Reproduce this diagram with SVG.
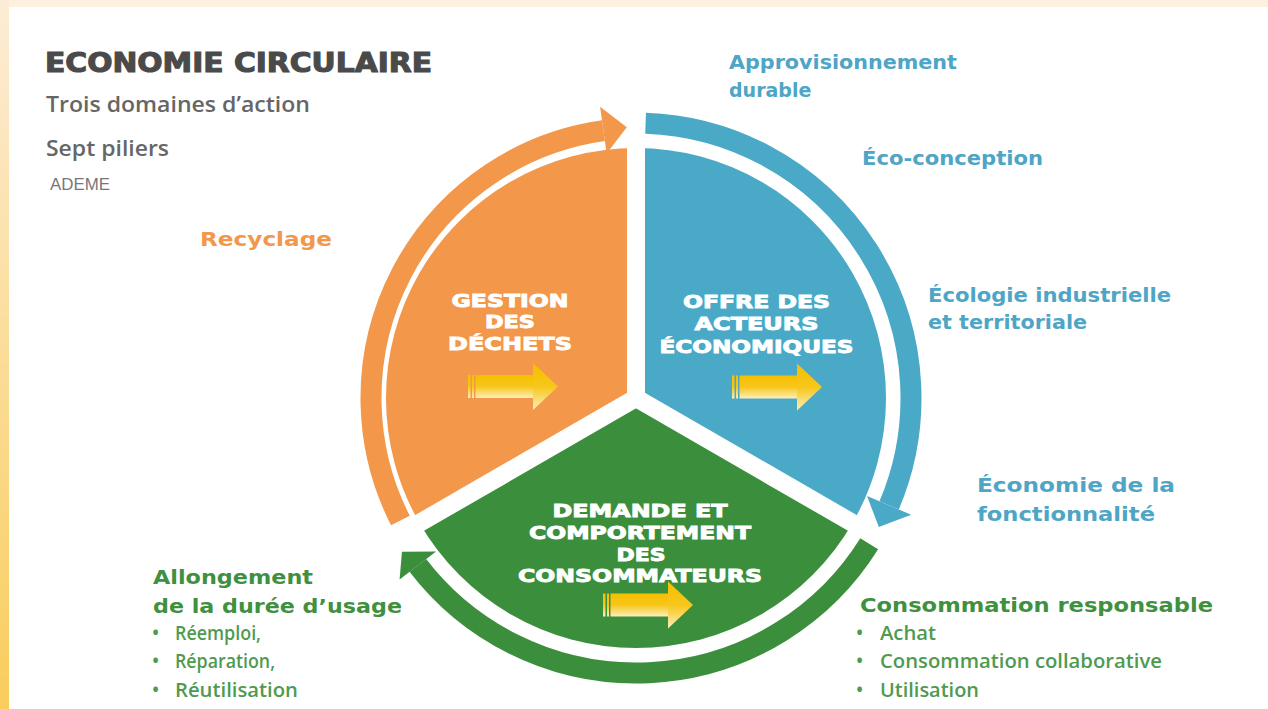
<svg xmlns="http://www.w3.org/2000/svg" width="1268" height="709" viewBox="0 0 1268 709">
<defs>
<linearGradient id="leftStrip" x1="0" y1="0" x2="0" y2="1">
<stop offset="0" stop-color="#fdecd6"/>
<stop offset="1" stop-color="#f9cd5c"/>
</linearGradient>
<linearGradient id="gold" x1="0" y1="0" x2="0" y2="1">
<stop offset="0" stop-color="#f5bf00"/>
<stop offset="0.5" stop-color="#f7c61a"/>
<stop offset="1" stop-color="#fdefbb"/>
</linearGradient>
<g id="yarrow">
<rect x="0" y="-11.5" width="2.5" height="23" fill="url(#gold)"/>
<rect x="4" y="-11.5" width="2" height="23" fill="url(#gold)"/>
<rect x="7.5" y="-11.5" width="58" height="23" fill="url(#gold)"/>
<polygon points="65,-23.5 90,0 65,23.5" fill="url(#gold)"/>
</g>
<style>
.title{font-family:"DejaVu Sans",sans-serif;font-weight:bold;font-size:26px;fill:#4a4a4a;stroke:#4a4a4a;stroke-width:1.1}
.sub{font-family:"Open Sans",sans-serif;font-weight:600;font-size:21px;fill:#666}
.src{font-family:"Liberation Sans",sans-serif;font-size:16px;fill:#777}
.sec{font-family:"DejaVu Sans",sans-serif;font-weight:bold;font-size:18px;fill:#fff;stroke:#fff;stroke-width:0.9;text-anchor:middle}
.blue{font-family:"DejaVu Sans",sans-serif;font-weight:bold;font-size:19px;fill:#4ea5c5}
.orange{font-family:"DejaVu Sans",sans-serif;font-weight:bold;font-size:19px;fill:#f3974b}
.green{font-family:"DejaVu Sans",sans-serif;font-weight:bold;font-size:19px;fill:#3f903f}
.item{font-family:"Open Sans",sans-serif;font-weight:600;font-size:19px;fill:#4f9a4f}
.ring{fill:none;stroke-width:21}
</style>
</defs>

<g id="frame">
<rect x="0" y="0" width="1268" height="709" fill="#ffffff"/>
<rect x="0" y="0" width="1268" height="7" fill="#fdf0df"/>
<rect x="0" y="0" width="9" height="709" fill="url(#leftStrip)"/>
</g>

<g id="title">
<text class="title" x="45" y="72" textLength="387" lengthAdjust="spacingAndGlyphs">ECONOMIE CIRCULAIRE</text>
<text class="sub" x="46" y="112" textLength="264" lengthAdjust="spacingAndGlyphs">Trois domaines d’action</text>
<text class="sub" x="46" y="156" textLength="123" lengthAdjust="spacingAndGlyphs">Sept piliers</text>
<text class="src" x="50" y="190" textLength="60" lengthAdjust="spacingAndGlyphs">ADEME</text>
</g>

<g id="sector-gestion">
<path d="M636,398 L419.49,523 A250,250 0 0 1 636,148 Z" fill="#f3974b"/>
</g>
<g id="sector-offre">
<path d="M636,398 L636,148 A250,250 0 0 1 852.51,523 Z" fill="#4aa9c7"/>
</g>
<g id="sector-demande">
<path d="M636,398 L852.51,523 A250,250 0 0 1 419.49,523 Z" fill="#3b8f3c"/>
</g>

<g id="dividers" stroke="#ffffff" stroke-width="18" fill="none">
<line x1="636" y1="398" x2="636" y2="138"/>
<line x1="636" y1="398" x2="410.8" y2="528"/>
<line x1="636" y1="398" x2="861.2" y2="528"/>
</g>

<g id="sector-labels">
<text class="sec" x="510" y="307" textLength="117" lengthAdjust="spacingAndGlyphs">GESTION</text>
<text class="sec" x="510" y="328" textLength="50" lengthAdjust="spacingAndGlyphs">DES</text>
<text class="sec" x="510" y="350" textLength="124" lengthAdjust="spacingAndGlyphs">DÉCHETS</text>
<text class="sec" x="756.5" y="308" textLength="147" lengthAdjust="spacingAndGlyphs">OFFRE DES</text>
<text class="sec" x="756.5" y="330" textLength="124" lengthAdjust="spacingAndGlyphs">ACTEURS</text>
<text class="sec" x="756.5" y="353" textLength="194" lengthAdjust="spacingAndGlyphs">ÉCONOMIQUES</text>
<text class="sec" x="640" y="517" textLength="175" lengthAdjust="spacingAndGlyphs">DEMANDE ET</text>
<text class="sec" x="640" y="539" textLength="222" lengthAdjust="spacingAndGlyphs">COMPORTEMENT</text>
<text class="sec" x="641" y="561" textLength="49" lengthAdjust="spacingAndGlyphs">DES</text>
<text class="sec" x="640" y="582" textLength="244" lengthAdjust="spacingAndGlyphs">CONSOMMATEURS</text>
</g>

<g id="yellow-arrows">
<use href="#yarrow" transform="translate(468,386.5)"/>
<use href="#yarrow" transform="translate(732,387)"/>
<use href="#yarrow" transform="translate(603,605)"/>
</g>

<g id="connectors">
<path class="ring" stroke="#f3974b" d="M400.43,520.58 A270,270 0 0 1 603.42,130.62"/>
<polygon fill="#f3974b" points="606.62,153.40 600.08,106.86 626.82,127.37"/>
<path class="ring" stroke="#4aa9c7" d="M645.60,123.17 A275,275 0 0 1 889.14,505.45"/>
<polygon fill="#4aa9c7" points="867.05,496.07 911.23,514.83 878.81,527.10"/>
<path class="ring" stroke="#3b8f3c" d="M869.21,543.73 A275,275 0 0 1 417.83,565.41"/>
<polygon fill="#3b8f3c" points="436.08,551.41 399.58,579.41 401.97,551.73"/>
</g>

<g id="label-recyclage">
<text class="orange" x="200" y="246" textLength="132" lengthAdjust="spacingAndGlyphs">Recyclage</text>
</g>
<g id="label-approvisionnement">
<text class="blue" x="729" y="69" textLength="228" lengthAdjust="spacingAndGlyphs">Approvisionnement</text>
<text class="blue" x="729" y="97">durable</text>
</g>
<g id="label-ecoconception">
<text class="blue" x="862" y="165" textLength="181" lengthAdjust="spacingAndGlyphs">Éco-conception</text>
</g>
<g id="label-ecologie">
<text class="blue" x="928" y="302" textLength="243" lengthAdjust="spacingAndGlyphs">Écologie industrielle</text>
<text class="blue" x="928" y="329" textLength="159" lengthAdjust="spacingAndGlyphs">et territoriale</text>
</g>
<g id="label-fonctionnalite">
<text class="blue" x="977" y="492" textLength="198" lengthAdjust="spacingAndGlyphs">Économie de la</text>
<text class="blue" x="977" y="521" textLength="178" lengthAdjust="spacingAndGlyphs">fonctionnalité</text>
</g>
<g id="label-allongement">
<text class="green" x="153" y="584" textLength="160" lengthAdjust="spacingAndGlyphs">Allongement</text>
<text class="green" x="153" y="613" textLength="249" lengthAdjust="spacingAndGlyphs">de la durée d’usage</text>
<text class="item" x="152" y="640">•</text>
<text class="item" x="175" y="640" textLength="86" lengthAdjust="spacingAndGlyphs">Réemploi,</text>
<text class="item" x="152" y="668">•</text>
<text class="item" x="175" y="668" textLength="100" lengthAdjust="spacingAndGlyphs">Réparation,</text>
<text class="item" x="152" y="697">•</text>
<text class="item" x="175" y="697" textLength="123" lengthAdjust="spacingAndGlyphs">Réutilisation</text>
</g>
<g id="label-consommation">
<text class="green" x="860" y="612" textLength="353" lengthAdjust="spacingAndGlyphs">Consommation responsable</text>
<text class="item" x="856" y="640">•</text>
<text class="item" x="880" y="640" textLength="56" lengthAdjust="spacingAndGlyphs">Achat</text>
<text class="item" x="856" y="668">•</text>
<text class="item" x="880" y="668" textLength="282" lengthAdjust="spacingAndGlyphs">Consommation collaborative</text>
<text class="item" x="856" y="697">•</text>
<text class="item" x="880" y="697" textLength="99" lengthAdjust="spacingAndGlyphs">Utilisation</text>
</g>
</svg>
